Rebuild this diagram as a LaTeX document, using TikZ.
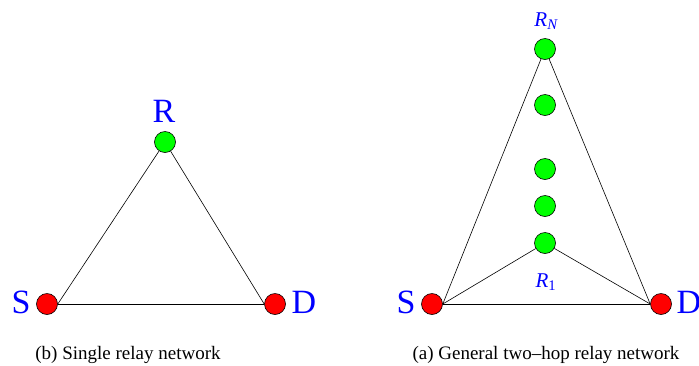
\documentclass[tikz,border=0pt]{standalone}
\usepackage{fontspec}
\setmainfont{Liberation Serif}
\begin{document}
\begin{tikzpicture}[x=1pt,y=-1pt,
  srcnode/.style={circle,draw=black,fill=red,minimum size=21pt,inner sep=0pt,line width=0.6pt},
  relnode/.style={circle,draw=black,fill=green,minimum size=21pt,inner sep=0pt,line width=0.6pt},
  biglabel/.style={text=blue,font=\fontsize{34}{34}\selectfont,inner sep=0pt},
  sublabel/.style={text=blue,font=\fontsize{21}{21}\selectfont\itshape,inner sep=0pt},
  caplabel/.style={font=\fontsize{19}{19}\selectfont,inner sep=0pt},
  link/.style={draw=black,line width=0.6pt}]
\useasboundingbox (0,0) rectangle (699,365);
% left network
\node[srcnode] (S1) at (47,304) {};
\node[srcnode] (D1) at (275,304) {};
\node[relnode] (R) at (165,142) {};
\draw[link] (S1.east) -- (D1.west);
\draw[link] (S1.east) -- (R);
\draw[link] (R) -- (D1.west);
\node[biglabel] (lS1) at (21,302) {S};
\node[biglabel] (lD1) at (304,302) {D};
\node[biglabel] (lR) at (164,111) {R};
\node[caplabel] (cap1) at (128,355) {(b) Single relay network};
% right network
\node[srcnode] (S2) at (432,304) {};
\node[srcnode] (D2) at (661,304) {};
\node[relnode] (RN) at (545,49) {};
\node[relnode] (Ra) at (545,105) {};
\node[relnode] (Rb) at (545,169) {};
\node[relnode] (Rc) at (545,206) {};
\node[relnode] (R1) at (545,243) {};
\draw[link] (S2.east) -- (D2.west);
\draw[link] (S2.east) -- (RN);
\draw[link] (RN) -- (D2.west);
\draw[link] (S2.east) -- (R1);
\draw[link] (R1) -- (D2.west);
\node[biglabel] (lS2) at (406,302) {S};
\node[biglabel] (lD2) at (689,302) {D};
\node[sublabel] (lRN) at (546,21) {R\textsubscript{N}};
\node[sublabel] (lR1) at (546,282) {R\textsubscript{\upshape 1}};
\node[caplabel] (cap2) at (546,355) {(a) General two–hop relay network};
\end{tikzpicture}
\end{document}
